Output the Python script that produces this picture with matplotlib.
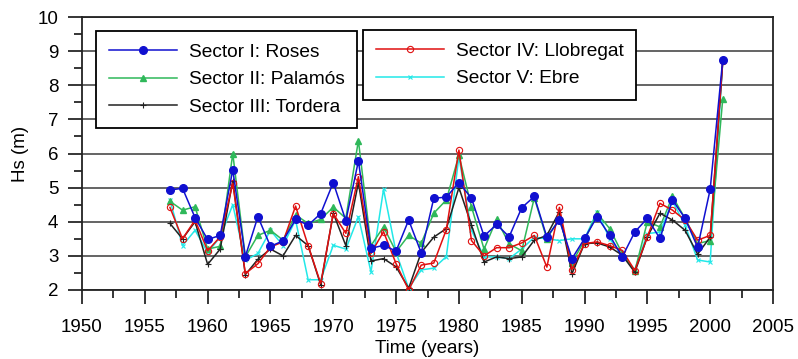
import matplotlib
matplotlib.use('Agg')
import matplotlib.pyplot as plt
from matplotlib.ticker import MultipleLocator

plt.rcParams['font.family'] = ['Liberation Sans', 'DejaVu Sans']

years = list(range(1957, 2002))

roses = [4.93, 4.98, 4.12, 3.48, 3.60, 5.52, 2.98, 4.15, 3.28, 3.44,
         4.07, 3.90, 4.24, 5.15, 4.03, 5.78, 3.22, 3.31, 3.14, 4.05,
         3.09, 4.69, 4.72, 5.15, 4.69, 3.58, 3.92, 3.56, 4.41, 4.74,
         3.55, 4.05, 2.92, 3.51, 4.15, 3.60, 2.97, 3.70, 4.10, 3.51,
         4.64, 4.10, 3.25, 4.95, 8.75]
palamos = [4.60, 4.34, 4.44, 3.20, 3.28, 6.00, 2.97, 3.60, 3.75, 3.46,
           4.20, 3.95, 4.07, 4.43, 4.10, 6.38, 3.30, 3.85, 3.12, 3.60,
           3.37, 4.25, 4.64, 5.95, 4.44, 3.20, 4.07, 3.35, 3.15, 4.70,
           3.50, 4.10, 2.80, 3.45, 4.25, 3.80, 3.07, 2.55, 4.00, 3.85,
           4.74, 4.10, 3.36, 3.45, 7.60]
tordera = [3.95, 3.50, 4.00, 2.75, 3.20, 5.20, 2.45, 2.90, 3.20, 3.00,
           3.60, 3.30, 2.15, 4.25, 3.30, 5.15, 2.85, 2.92, 2.68, 2.05,
           3.10, 3.55, 3.80, 5.00, 3.90, 2.82, 2.97, 2.92, 2.97, 3.46,
           3.60, 4.30, 2.48, 3.36, 3.38, 3.26, 3.02, 2.52, 3.56, 4.25,
           4.05, 3.75, 3.05, 3.55, 8.70]
llobregat = [4.42, 3.50, 4.05, 3.15, 3.56, 5.13, 2.48, 2.77, 3.26, 3.41,
             4.46, 3.30, 2.19, 4.24, 3.66, 5.32, 3.07, 3.71, 2.77, 2.00,
             2.73, 2.79, 3.77, 6.10, 3.45, 3.00, 3.24, 3.24, 3.38, 3.60,
             2.67, 4.42, 2.60, 3.36, 3.41, 3.30, 3.16, 2.57, 3.56, 4.54,
             4.34, 4.05, 3.46, 3.60, 8.70]
ebre = [4.64, 3.30, 3.75, 3.10, 3.55, 4.50, 2.87, 3.07, 3.75, 3.30,
        4.05, 2.30, 2.30, 3.31, 3.20, 4.15, 2.53, 4.95, 3.10, 2.05,
        2.59, 2.64, 2.98, 5.90, 3.75, 2.97, 2.97, 2.92, 3.20, 3.55,
        3.50, 3.45, 3.50, 3.50, 4.30, 3.50, 3.00, 2.60, 3.65, 3.70,
        4.60, 3.90, 2.88, 2.82, 8.70]

W, H = 798, 359
fig = plt.figure(figsize=(W / 100, H / 100), dpi=100)
ax = fig.add_axes([82 / W, 1 - 290 / H, (773 - 82) / W, (290 - 17) / H])

FS = 13.5
LFS = 13.8

# sectors drawn back to front
l5, = ax.plot(years, ebre, color='#22e8e8', lw=1.1, marker='x', ms=3, mew=0.8, zorder=3,
              label='Sector V: Ebre')
l2, = ax.plot(years, palamos, color='#2fb85a', lw=1.1, marker='^', ms=4, zorder=4,
              label='Sector II: Palamós')
l3, = ax.plot(years, tordera, color='#222222', lw=1.1, marker='+', ms=5, mew=0.8, zorder=5,
              label='Sector III: Tordera')
l4, = ax.plot(years, llobregat, color='#e01010', lw=1.1, marker='o', ms=4.5, mfc='none',
              mew=0.8, zorder=6, label='Sector IV: Llobregat')
l1, = ax.plot(years, roses, color='#1010d0', lw=1.1, marker='o', ms=5.5, zorder=7,
              label='Sector I: Roses')

ax.set_xlim(1950, 2005)
ax.set_ylim(2, 10)
ax.xaxis.set_major_locator(MultipleLocator(5))
ax.xaxis.set_minor_locator(MultipleLocator(2.5))
ax.yaxis.set_major_locator(MultipleLocator(1))
ax.yaxis.set_minor_locator(MultipleLocator(0.5))
ax.tick_params(which='major', direction='out', length=10, width=1.1, labelsize=FS)
ax.tick_params(axis='x', which='major', pad=11)
ax.tick_params(axis='y', which='major', pad=7)
ax.tick_params(which='minor', direction='out', length=5.5, width=1.1)
ax.grid(True, axis='y', which='major', color='#4a4a4a', lw=1.2)
for s in ax.spines.values():
    s.set_linewidth(1.3)
    s.set_color('#222222')

ax.set_xlabel('Time (years)', fontsize=FS, labelpad=3)
ax.set_ylabel('Hs (m)', fontsize=FS, labelpad=6)

leg_kw = dict(fontsize=LFS, frameon=True, fancybox=False, edgecolor='black', framealpha=1,
              handlelength=3.55, handletextpad=0.62, borderpad=0.66, labelspacing=0.52,
              borderaxespad=0, loc='upper left', bbox_transform=fig.transFigure)
leg1 = ax.legend(handles=[l1, l2, l3], bbox_to_anchor=(96 / W, 1 - 31 / H), **leg_kw)
leg1.get_frame().set_linewidth(1.3)
ax.add_artist(leg1)
leg2 = ax.legend(handles=[l4, l5], bbox_to_anchor=(363 / W, 1 - 30 / H), **leg_kw)
leg2.get_frame().set_linewidth(1.3)
leg1.set_zorder(10)
leg2.set_zorder(10)

fig.savefig('out.png', dpi=100)
